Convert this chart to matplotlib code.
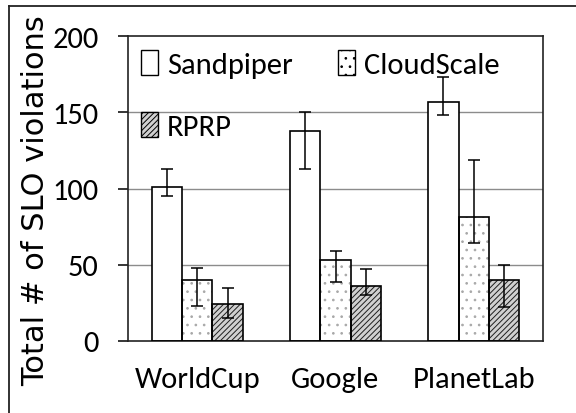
import numpy as np
import matplotlib
matplotlib.use("Agg")
import matplotlib.pyplot as plt
from matplotlib.lines import Line2D
from matplotlib.patches import Patch

# --- data ---------------------------------------------------------------
traces = ["WorldCup", "Google", "PlanetLab"]
schemes = ["Sandpiper", "CloudScale", "RPRP"]

sandpiper = [101, 138, 157]
sandpiper_lo = [6, 25, 9]
sandpiper_hi = [12, 12, 16]

cloudscale = [40, 53, 81]
cloudscale_lo = [17, 14, 17]
cloudscale_hi = [8, 6, 38]

rprp = [24, 36, 40]
rprp_lo = [9, 6, 18]
rprp_hi = [11, 11, 10]

yticks = [0, 50, 100, 150, 200]

# --- style --------------------------------------------------------------
NARROW = ["Carlito", "Lato", "DejaVu Sans"]
plt.rcParams["hatch.linewidth"] = 0.7
FS = 22

fig = plt.figure(figsize=(5.76, 4.14), dpi=100)
ax = fig.add_axes([128 / 576, 1 - 342 / 414, 415 / 576, 305 / 414])

x = np.arange(len(traces))
w = 0.22
series = [
    (sandpiper, sandpiper_lo, sandpiper_hi, "", "white", "white"),
    (cloudscale, cloudscale_lo, cloudscale_hi, "..", "white", "#a8a8a8"),
    (rprp, rprp_lo, rprp_hi, "//////", "#d0d0d0", "#1e1e1e"),
]

handles = []
for i, (vals, lo, hi, hatch, fc, hc) in enumerate(series):
    pos = x + (i - 1) * w
    # hatch layer first (grey pattern), then black outline on top
    ax.bar(pos, vals, w, color=fc, edgecolor=hc, hatch=hatch, lw=0, zorder=2)
    ax.bar(pos, vals, w, facecolor="none", edgecolor="black", lw=1.2, zorder=3)
    ax.errorbar(pos, vals, yerr=[lo, hi], fmt="none", ecolor="black",
                elinewidth=1.1, capsize=4, capthick=1.1, zorder=4)
    handles.append(Patch(facecolor=fc, edgecolor="black", hatch=hatch,
                         lw=1.0, label=schemes[i]))

ax.set_xlim(-0.5, 2.5)
ax.set_ylim(0, 200)
ax.set_yticks(yticks)
ax.set_xticks(x)
ax.set_xticklabels(traces, family=NARROW, fontsize=FS)
ax.set_yticklabels([str(t) for t in yticks], family=NARROW, fontsize=FS)
ax.tick_params(axis="y", direction="out", length=7, width=1.1, pad=14)
ax.tick_params(axis="x", length=0, pad=18)

for y in yticks[1:-1]:
    ax.axhline(y, color="#8c8c8c", lw=1.0, zorder=1)
for s in ax.spines.values():
    s.set_linewidth(1.2)
    s.set_color("#222222")

fig.text(36 / 576, 1 - 201 / 414, "Total # of SLO violations",
         family="DejaVu Sans", fontsize=22, rotation=90,
         ha="center", va="center")

# row order: Sandpiper, CloudScale / RPRP (legend fills column by column)
order = [0, 2, 1]
ax.legend(handles=[handles[k] for k in order], ncol=2, loc="upper left",
          bbox_to_anchor=(0.031, 0.955), frameon=False,
          prop={"family": NARROW, "size": FS},
          handlelength=0.55, handleheight=0.9, handletextpad=0.3,
          columnspacing=1.5, labelspacing=1.1,
          borderpad=0, borderaxespad=0)

# page frame around the plot
fx = 8.5 / 576
fy = 1 - 6.5 / 414
fig.add_artist(Line2D([fx, fx], [0, fy], transform=fig.transFigure,
                      color="#222222", lw=1.3))
fig.add_artist(Line2D([fx, 1], [fy, fy], transform=fig.transFigure,
                      color="#222222", lw=1.3))

fig.savefig("out.png", dpi=100)
